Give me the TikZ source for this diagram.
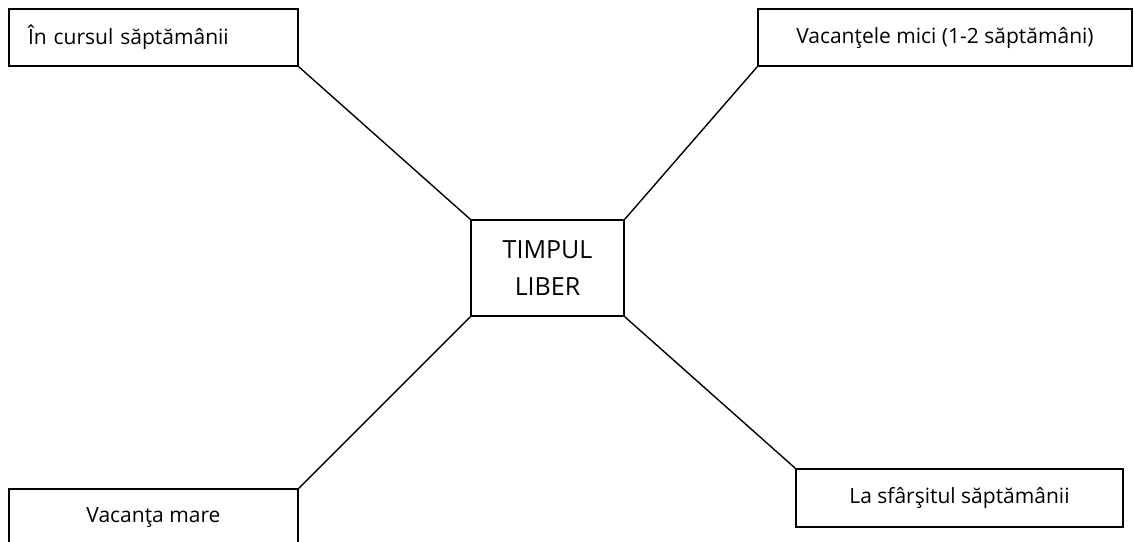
\documentclass[tikz,border=0pt]{standalone}
\usepackage{fontspec}
\setmainfont{Open Sans}
\begin{document}
\begin{tikzpicture}[
    x=1pt, y=-1pt,
    font=\fontsize{21}{26}\selectfont,
    box/.style={draw=black, fill=white, line width=1.6pt, inner sep=2pt,
                minimum height=57pt, align=center},
    link/.style={draw=black, line width=1.4pt},
  ]
  \useasboundingbox (0,0) rectangle (1134,541);
  % centre
  \node[box, minimum width=153pt, minimum height=96pt,
        font=\fontsize{25}{37}\selectfont] (T) at (547.5,268) {TIMPUL\\LIBER};
  % corners
  \node[box, minimum width=289pt, text width=251pt, inner xsep=19pt, align=left]
    (W) at (153.5,37.5) {În cursul săptămânii};
  \node[box, minimum width=374pt] (H) at (945,37.5) {Vacanţele mici (1-2 săptămâni)};
  \node[box, minimum width=289pt, minimum height=58pt] (S) at (153.5,518) {Vacanţa mare};
  \node[box, minimum width=327pt, minimum height=58pt] (E) at (959.5,498) {La sfârşitul săptămânii};
  \draw[link] (W.south east) -- (T.north west);
  \draw[link] (H.south west) -- (T.north east);
  \draw[link] (S.north east) -- (T.south west);
  \draw[link] (E.north west) -- (T.south east);
\end{tikzpicture}
\end{document}
